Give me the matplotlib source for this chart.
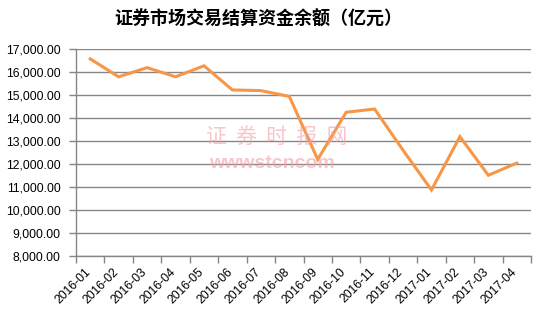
import matplotlib
matplotlib.use("Agg")
import matplotlib.pyplot as plt
from matplotlib.ticker import FuncFormatter, FixedLocator
import matplotlib.transforms as mtransforms
import numpy as np

title = "证券市场交易结算资金余额（亿元）"
months = ["2016-01", "2016-02", "2016-03", "2016-04", "2016-05", "2016-06",
          "2016-07", "2016-08", "2016-09", "2016-10", "2016-11", "2016-12",
          "2017-01", "2017-02", "2017-03", "2017-04"]
balance = [16570, 15790, 16190, 15790, 16270, 15220, 15190, 14940,
           12200, 14250, 14390, 12600, 10870, 13190, 11510, 12040]
y_ticks = [8000, 9000, 10000, 11000, 12000, 13000, 14000, 15000, 16000, 17000]

plt.rcParams['font.family'] = ['Liberation Sans', 'DejaVu Sans']

fig = plt.figure(figsize=(5.43, 3.14), dpi=100)
ax = fig.add_axes([76/543, 1 - 256/314, (531-76)/543, (256-49)/314])

x = np.arange(len(months))
ax.plot(x, balance, color="#F79646", linewidth=2.2, solid_joinstyle='miter', zorder=3)

ax.set_xlim(-0.5, len(months) - 0.5)
ax.set_ylim(8000, 17000)
ax.yaxis.set_major_locator(FixedLocator(y_ticks))
ax.yaxis.set_major_formatter(FuncFormatter(lambda v, p: f"{v:,.2f}"))
ax.grid(axis='y', color="#868686", linewidth=1.0)
ax.set_axisbelow(True)

ax.set_xticks(np.arange(-0.5, len(months) + 0.5, 1))
ax.set_xticklabels([])
ax.set_xticks(x, minor=True)
ax.set_xticklabels(months, minor=True, rotation=45, ha='right', rotation_mode='anchor', fontsize=8.8)
ax.tick_params(axis='x', which='minor', length=0, pad=7)
ax.tick_params(axis='x', which='major', length=5, color="#868686", width=1)
ax.tick_params(axis='y', length=5, color="#868686", width=1, labelsize=8.8, pad=6)

offset = mtransforms.ScaledTranslation(-6/100, 0, fig.dpi_scale_trans)
for lbl in ax.get_xticklabels(minor=True):
    lbl.set_transform(lbl.get_transform() + offset)

for s in ['top', 'right']:
    ax.spines[s].set_visible(False)
for s in ['left', 'bottom']:
    ax.spines[s].set_color("#868686")
    ax.spines[s].set_linewidth(1)

fig.text(258/543, 1 - 19/314, title, ha='center', va='center', fontsize=13,
         fontweight='bold', family=['Noto Sans CJK SC', 'DejaVu Sans'])

# watermark
fig.text(277/543, 1 - 137/314, "证  券  时  报  网", ha='center', va='center', fontsize=15,
         color="#F2A0A8", alpha=0.6, family=['Noto Sans CJK SC', 'DejaVu Sans'], zorder=5)
fig.text(272/543, 1 - 163/314, "wwwstcncom", ha='center', va='center', fontsize=14,
         color="#F2A0A8", alpha=0.6, fontweight='bold', zorder=5)

fig.savefig("out.png", dpi=100)
